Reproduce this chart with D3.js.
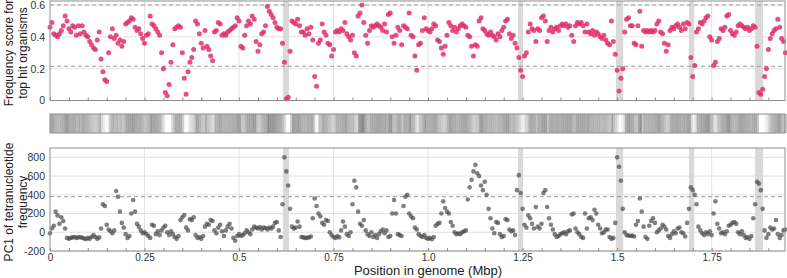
<!DOCTYPE html>
<html>
<head>
<meta charset="utf-8">
<script src="https://cdn.jsdelivr.net/npm/d3@7"></script>
<style>
  body { margin: 0; background: #fff; }
  text { font-family: "Liberation Sans", Arial, sans-serif; }
</style>
</head>
<body>
<div id="chart"></div>
<script>
var width = 787
var height = 278

// window size along the genome (Mbp)
var windowMbp = 0.005

// frequency score for top hit organisms, one value per window
var freqScore = [
  0.46,0.49,0.42,0.41,0.40,0.42,0.44,0.47,0.53,0.50,
  0.45,0.43,0.47,0.46,0.41,0.47,0.42,0.47,0.43,0.41,
  0.40,0.37,0.35,0.33,0.32,0.38,0.43,0.26,0.18,0.13,
  0.12,0.30,0.40,0.45,0.39,0.41,0.36,0.38,0.34,0.37,
  0.48,0.49,0.50,0.52,0.51,0.46,0.44,0.45,0.42,0.39,
  0.36,0.41,0.42,0.53,0.48,0.47,0.45,0.43,0.41,0.30,
  0.20,0.05,0.03,0.10,0.24,0.35,0.45,0.46,0.47,0.46,
  0.30,0.14,0.04,0.18,0.24,0.27,0.32,0.50,0.48,0.42,
  0.36,0.33,0.44,0.34,0.32,0.28,0.25,0.43,0.44,0.49,
  0.48,0.41,0.42,0.41,0.43,0.44,0.45,0.46,0.47,0.52,
  0.50,0.34,0.33,0.41,0.47,0.50,0.48,0.53,0.51,0.37,
  0.31,0.35,0.42,0.43,0.47,0.59,0.56,0.54,0.52,0.49,
  0.46,0.45,0.45,0.36,0.24,0.01,0.02,0.31,0.50,0.49,
  0.48,0.51,0.47,0.43,0.43,0.41,0.45,0.42,0.46,0.38,
  0.15,0.09,0.36,0.38,0.48,0.43,0.41,0.36,0.35,0.28,
  0.32,0.43,0.44,0.43,0.45,0.44,0.49,0.42,0.40,0.38,
  0.41,0.30,0.28,0.53,0.55,0.60,0.49,0.41,0.36,0.44,
  0.47,0.46,0.47,0.48,0.47,0.46,0.44,0.48,0.43,0.54,
  0.55,0.40,0.36,0.41,0.46,0.44,0.35,0.47,0.46,0.45,
  0.55,0.41,0.40,0.28,0.19,0.35,0.36,0.44,0.52,0.45,
  0.44,0.43,0.45,0.48,0.47,0.38,0.37,0.33,0.29,0.34,
  0.41,0.49,0.47,0.44,0.46,0.43,0.45,0.47,0.48,0.47,
  0.46,0.41,0.40,0.34,0.28,0.35,0.34,0.50,0.52,0.45,
  0.44,0.42,0.41,0.43,0.41,0.40,0.38,0.42,0.40,0.44,
  0.46,0.50,0.51,0.42,0.39,0.41,0.36,0.33,0.27,0.19,
  0.15,0.28,0.30,0.43,0.48,0.45,0.44,0.37,0.45,0.44,
  0.52,0.53,0.50,0.37,0.44,0.46,0.43,0.45,0.46,0.44,
  0.47,0.48,0.47,0.48,0.46,0.47,0.41,0.37,0.47,0.49,
  0.48,0.49,0.47,0.43,0.48,0.43,0.42,0.44,0.41,0.43,
  0.42,0.40,0.39,0.41,0.38,0.36,0.35,0.50,0.37,0.29,
  0.19,0.06,0.14,0.20,0.43,0.51,0.52,0.47,0.47,0.36,
  0.35,0.47,0.56,0.34,0.44,0.43,0.44,0.43,0.44,0.43,
  0.44,0.48,0.50,0.43,0.42,0.36,0.31,0.35,0.44,0.46,
  0.45,0.47,0.48,0.46,0.44,0.48,0.45,0.49,0.48,0.27,
  0.15,0.22,0.43,0.45,0.49,0.48,0.50,0.52,0.53,0.40,
  0.38,0.22,0.24,0.37,0.39,0.45,0.44,0.46,0.53,0.54,
  0.44,0.42,0.41,0.43,0.47,0.48,0.47,0.46,0.45,0.46,
  0.44,0.45,0.47,0.46,0.34,0.05,0.04,0.07,0.15,0.20,
  0.32,0.39,0.42,0.44,0.45,0.51,0.46,0.39,0.37,0.30
]

// PC1 of tetranucleotide frequency, one value per window
var pc1 = [
  -10,40,70,220,180,90,160,120,40,-60,
  -70,-60,-55,-50,-60,-55,-50,-60,-65,-75,
  -60,-70,-50,-30,-50,-70,-55,40,300,280,
  80,30,10,-10,20,440,380,220,100,50,
  -20,-60,-40,200,345,220,90,60,20,-10,
  0,-20,-40,-60,80,70,-20,10,-30,20,
  50,70,0,-30,10,-20,-50,-70,-40,130,
  160,185,50,20,140,130,160,-30,-60,-50,
  -70,-40,60,90,80,130,120,20,-10,50,
  80,10,-40,20,60,90,40,-60,-90,-40,
  -20,-40,-30,-10,20,0,-20,30,60,50,
  40,55,30,50,45,30,50,40,60,100,
  110,20,-50,300,800,650,500,250,60,40,
  50,115,60,-50,-55,-60,-60,-55,-45,150,
  360,280,200,170,100,80,130,120,0,-30,
  -50,-60,-40,-55,20,115,60,-20,-40,0,
  300,550,480,220,90,70,130,20,-20,-40,
  0,-50,-30,-60,-20,10,30,-10,20,-50,
  -40,200,345,200,-20,-30,-40,280,380,400,
  200,170,150,50,30,-20,-40,-50,-30,-60,
  -70,-60,-75,-50,70,90,100,200,330,260,
  220,200,110,70,0,-20,-10,-20,0,10,
  20,350,480,560,650,720,630,600,500,450,
  540,400,250,150,40,-10,110,100,-20,-50,
  -40,140,130,30,10,20,-30,450,610,420,
  250,80,50,180,150,90,40,270,60,40,
  90,420,450,270,150,80,30,-20,-50,-40,
  -20,-10,0,-20,10,20,190,200,40,0,
  -20,-50,-60,200,40,150,160,130,240,200,
  80,40,-10,0,30,30,-50,-70,-60,100,
  800,700,550,250,0,-30,-35,-40,-35,-45,
  80,120,360,220,60,-50,-70,70,120,150,
  100,0,20,40,80,60,30,-40,-60,-20,
  10,-10,40,50,0,-10,-45,100,250,480,
  450,400,300,60,20,-10,-30,0,-20,10,
  -30,200,330,90,40,-10,0,-20,10,70,
  80,100,110,90,0,-20,10,-30,-60,-50,
  -70,-40,150,300,540,520,450,250,20,-60,
  -20,50,30,40,130,-20,-60,-30,20,30
]

// highlighted regions (Mbp)
var bandStart = [0.616, 1.238, 1.497, 1.690, 1.865]
var bandEnd   = [0.632, 1.251, 1.516, 1.704, 1.886]

var xTicks = [0, 0.25, 0.5, 0.75, 1.0, 1.25, 1.5, 1.75]
var xTickLabels = ["0", "0.25", "0.5", "0.75", "1.0", "1.25", "1.5", "1.75"]
var freqTicks = [0, 0.2, 0.4, 0.6]
var freqTickLabels = ["0", "0.2", "0.4", "0.6"]
var pcTicks = [-200, 0, 200, 400, 600, 800]
var pcTickLabels = ["-200", "0", "200", "400", "600", "800"]
var freqCutoffs = [0.215, 0.6]
var pcCutoffs = [380]

var genomeMbp = 1.944

var svg = d3.select("#chart").append("svg")
    .attr("width", width)
    .attr("height", height)

var x = d3.scaleLinear().domain([0, genomeMbp]).range([50, 785])
var yFreq = d3.scaleLinear().domain([0, 0.625]).range([100.5, 1])
var yPc = d3.scaleLinear().domain([-200, 900]).range([251, 148])

var minorTicks = d3.range(0, genomeMbp, 0.05)
var bands = bandStart.map((s, i) => ({ s: s, e: bandEnd[i] }))

const panel = (y, ticks, tickLabels, cutoffs, values, color, opacity, radius) => {
  const top = y.range()[1], bottom = y.range()[0]
  const g = svg.append('g')

  // grid
  g.selectAll('.vg').data(xTicks.slice(1)).enter().append('line')
    .attr('x1', d => x(d)).attr('x2', d => x(d))
    .attr('y1', top).attr('y2', bottom)
    .attr('stroke', '#e2e2e2')
  g.selectAll('.hg').data(ticks).enter().append('line')
    .attr('x1', x.range()[0]).attr('x2', x.range()[1])
    .attr('y1', d => y(d)).attr('y2', d => y(d))
    .attr('stroke', '#e2e2e2')

  // highlighted regions
  g.selectAll('.band').data(bands).enter().append('rect')
    .attr('x', d => x(d.s)).attr('width', d => x(d.e) - x(d.s))
    .attr('y', top).attr('height', bottom - top)
    .attr('fill', '#d9d9d9')

  g.selectAll('.cut').data(cutoffs).enter().append('line')
    .attr('x1', x.range()[0]).attr('x2', x.range()[1])
    .attr('y1', d => y(d)).attr('y2', d => y(d))
    .attr('stroke', '#999').attr('stroke-dasharray', '4,3')

  g.selectAll('circle').data(values).enter().append('circle')
    .attr('cx', (d, i) => x(i * windowMbp))
    .attr('cy', d => y(d))
    .attr('r', radius)
    .attr('fill', color)
    .attr('fill-opacity', opacity)

  // frame
  g.append('rect')
    .attr('x', x.range()[0]).attr('y', top)
    .attr('width', x.range()[1] - x.range()[0]).attr('height', bottom - top)
    .attr('fill', 'none').attr('stroke', '#8c8c8c')

  g.append('g').attr('transform', `translate(0,${bottom})`)
    .call(d3.axisBottom(x).tickValues(minorTicks).tickSize(-3).tickFormat(''))
    .call(a => a.select('.domain').remove())
    .selectAll('line').attr('stroke', '#8c8c8c')

  const yAxis = g.append('g').attr('transform', `translate(${x.range()[0]},0)`)
    .call(d3.axisLeft(y).tickValues(ticks).tickSize(0).tickPadding(5)
      .tickFormat((d, i) => tickLabels[i]))
  yAxis.select('.domain').remove()
  yAxis.selectAll('text').attr('font-size', 10.5).attr('fill', '#333')
    .attr('font-family', '"Liberation Sans", Arial, sans-serif')
  return g
}

panel(yFreq, freqTicks, freqTickLabels, freqCutoffs, freqScore, '#e0306b', 0.85, 2.5)
panel(yPc, pcTicks, pcTickLabels, pcCutoffs, pc1, '#4a4a4a', 0.7, 2.3)

// strip of grey levels from the frequency score
var gray = d3.scaleLinear().domain([0.1, 0.6]).range(['#ffffff', '#888888']).clamp(true)
var strip = svg.append('g')
strip.selectAll('rect').data(freqScore).enter().append('rect')
  .attr('x', (d, i) => x(i * windowMbp))
  .attr('width', x(windowMbp) - x(0) + 0.3)
  .attr('y', 114).attr('height', 19)
  .attr('fill', d => gray(d))
strip.append('rect')
  .attr('x', x.range()[0]).attr('y', 114)
  .attr('width', x.range()[1] - x.range()[0]).attr('height', 19)
  .attr('fill', 'none').attr('stroke', '#8c8c8c')

// x axis labels
var xAxis = svg.append('g').attr('transform', `translate(0,251)`)
  .call(d3.axisBottom(x).tickValues(xTicks).tickSize(0).tickPadding(3)
    .tickFormat((d, i) => xTickLabels[i]))
xAxis.select('.domain').remove()
xAxis.selectAll('text').attr('font-size', 10).attr('fill', '#333')
  .attr('font-family', '"Liberation Sans", Arial, sans-serif')

svg.append('text')
  .attr('x', 428).attr('y', 275)
  .attr('text-anchor', 'middle')
  .attr('font-size', 13).attr('fill', '#222')
  .text('Position in genome (Mbp)')

const yTitle = (lines, cy) => {
  const t = svg.append('text')
    .attr('transform', `translate(0,${cy}) rotate(-90)`)
    .attr('text-anchor', 'middle')
    .attr('font-size', 12).attr('fill', '#222')
  lines.forEach((l, i) => {
    t.append('tspan').attr('x', 0).attr('y', 13 + i * 14).text(l)
  })
}
yTitle(['Frequency score for', 'top hit organisms'], 53)
yTitle(['PC1 of tetranucleotide', 'frequency'], 202)
</script>
</body>
</html>
